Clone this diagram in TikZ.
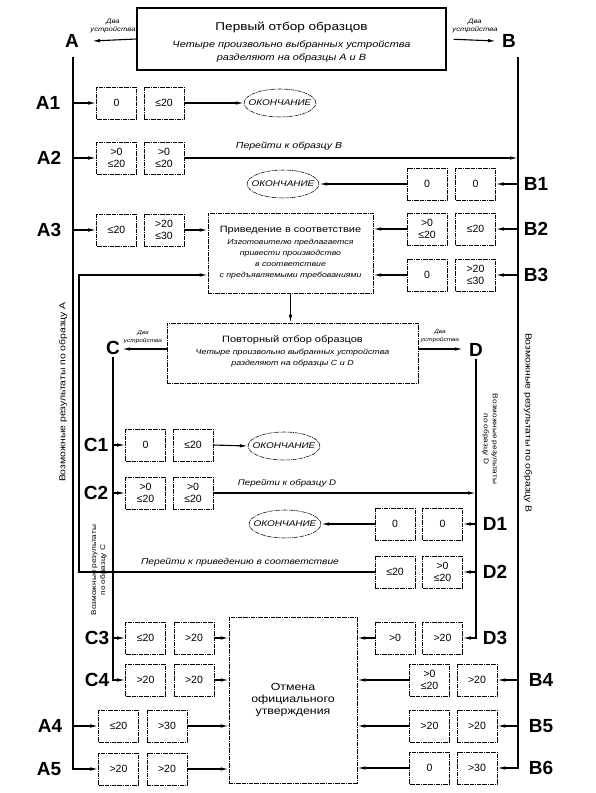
\documentclass[tikz,border=0pt]{standalone}
\usepackage{fontspec}
\setmainfont{Liberation Sans}
\newfontfamily\wide{Liberation Sans}[FakeStretch=1.2]
\usetikzlibrary{arrows.meta,shapes.geometric}
\begin{document}
\begin{tikzpicture}[x=1pt,y=-1pt,
  dpat/.style={dash pattern=on 4pt off 0.8pt on 1pt off 0.8pt},
  dbox/.style={draw, line width=0.55pt, dpat, inner sep=0pt, minimum width=40pt, minimum height=32pt, align=center, font=\fontsize{10.5}{12.5}\selectfont},
  ell/.style={ellipse, draw, line width=0.55pt, dpat, inner xsep=-6pt, inner ysep=0pt, minimum width=71pt, minimum height=28pt, font=\wide\itshape\fontsize{8.3}{9}\selectfont},
  bigbox/.style={draw, line width=0.55pt, dpat, inner sep=0pt},
  arr/.style={line width=1.1pt, -{Latex[length=8pt,width=3.5pt]}},
  biglab/.style={font=\bfseries\fontsize{19}{19}\selectfont, inner sep=2pt},
  sublab/.style={font=\bfseries\fontsize{19}{19}\selectfont, inner sep=1pt},
  ital/.style={font=\wide\itshape\fontsize{9.1}{11}\selectfont, inner sep=0pt},
  pit/.style={font=\wide\itshape\fontsize{7.3}{9}\selectfont, inner sep=0pt},
  rit/.style={font=\wide\itshape\fontsize{7.4}{9}\selectfont, inner sep=0pt},
  goit/.style={font=\wide\itshape\fontsize{#1}{9}\selectfont, inner sep=0pt},
  two/.style={font=\wide\itshape\fontsize{#1}{8}\selectfont, align=center, inner sep=0pt},
  vtext/.style={font=\wide\fontsize{#1}{9}\selectfont, align=center, inner sep=0pt}
]
\useasboundingbox (0,0) rectangle (595,793);

% ---------- top ----------
\node[draw, line width=1.3pt, minimum width=309pt, minimum height=62pt] (top) at (291.5,39) {};
\node[anchor=base, font=\wide\fontsize{11.3}{13}\selectfont, inner sep=0pt] (t1) at (291.5,30) {Первый отбор образцов};
\node[anchor=base, ital] (t2) at (291.5,47) {Четыре произвольно выбранных устройства};
\node[anchor=base, ital] (t3) at (291.5,60) {разделяют на образцы А и В};

\node[biglab] (A) at (72,41) {A};
\node[biglab] (B) at (509,41) {B};
\draw[arr] (top.west) -- ([xshift=11pt]A.east);
\draw[arr, shorten <=7pt] (top.east) -- ([xshift=-4pt]B.west);
\node[two=6.4] (ta) at (113,26) {Два\\устройства};
\node[two=6.4] (tb) at (475,26) {Два\\устройства};

\coordinate (Atop) at (73,57);
\coordinate (Abot) at (73,769);
\coordinate (Btop) at (518,57);
\coordinate (Bbot) at (518,768);

% ---------- A1 ----------
\node[dbox] (a1a) at (116.5,103) {0};
\node[dbox] (a1b) at (164,103) {≤20};
\node[ell] (e1) at (280,103) {ОКОНЧАНИЕ};
\node[sublab] (la1) at (48,103) {A1};
\draw[arr] (a1a.west -| Atop) -- (a1a.west);
\draw[arr] (a1b.east) -- (e1.west);

% ---------- A2 ----------
\node[dbox] (a2a) at (116.5,158) {>0\\≤20};
\node[dbox] (a2b) at (164,158) {>0\\≤20};
\node[sublab] (la2) at (49,158) {A2};
\draw[arr] (a2a.west -| Atop) -- (a2a.west);
\draw[arr] (a2b.east) -- (a2b.east -| Btop);
\node[goit=8.8] (g1) at (289,146) {Перейти к образцу В};

% ---------- B1 ----------
\node[dbox] (b1a) at (427,184) {0};
\node[dbox] (b1b) at (475.5,184) {0};
\node[ell] (e2) at (283,184) {ОКОНЧАНИЕ};
\node[sublab] (lb1) at (536,184) {B1};
\draw[arr] (b1b.east -| Btop) -- (b1b.east);
\draw[arr] (b1a.west) -- (e2.east);

% ---------- Priv box ----------
\node[bigbox, minimum width=165pt, minimum height=80pt] (priv) at (290.5,253) {};
\node[font=\wide\fontsize{9.1}{12}\selectfont, inner sep=0pt] (p1) at (290.5,230) {Приведение в соответствие};
\node[pit] (p2) at (290.5,243) {Изготовителю предлагается};
\node[pit] (p3) at (290.5,254) {привести производство};
\node[pit] (p4) at (290.5,265) {в соответствие};
\node[pit] (p5) at (290.5,276) {с предъявляемыми требованиями};

% ---------- A3 ----------
\node[dbox] (a3a) at (116.5,230) {≤20};
\node[dbox] (a3b) at (164,230) {>20\\≤30};
\node[sublab] (la3) at (49,230) {A3};
\draw[arr] (a3a.west -| Atop) -- (a3a.west);
\draw[arr] (a3b.east) -- (priv.west |- a3b.east);

% ---------- B2, B3 ----------
\node[dbox] (b2a) at (427,229) {>0\\≤20};
\node[dbox] (b2b) at (475.5,229) {≤20};
\node[sublab] (lb2) at (536,229) {B2};
\draw[arr] (b2b.east -| Btop) -- (b2b.east);
\draw[arr] (b2a.west) -- (priv.east |- b2a.west);

\node[dbox] (b3a) at (427,275) {0};
\node[dbox] (b3b) at (475.5,275) {>20\\≤30};
\node[sublab] (lb3) at (536,275) {B3};
\draw[arr] (b3b.east -| Btop) -- (b3b.east);
\draw[arr] (b3a.west) -- (priv.east |- b3a.west);

% ---------- repeat box ----------
\node[bigbox, minimum width=251pt, minimum height=60pt] (rep) at (292.5,353) {};
\node[font=\wide\fontsize{9.2}{12}\selectfont, inner sep=0pt] (r1) at (292.5,340) {Повторный отбор образцов};
\node[rit] (r2) at (292.5,353) {Четыре произвольно выбранных устройства};
\node[rit] (r3) at (292.5,364) {разделяют на образцы С и D};
\draw[arr] (priv.south) -- (priv.south |- rep.north);

\node[biglab] (C) at (113,348) {C};
\node[biglab] (D) at (476,350) {D};
\draw[arr] (rep.west |- 0,349) -- (C.east |- 0,349);
\draw[arr] (rep.east |- 0,349) -- ([xshift=-4pt]D.west |- 0,349);
\node[two=5.4] (tc) at (143,337) {Два\\устройства};
\node[two=5.4] (td) at (440,336) {Два\\устройства};

\coordinate (Cbot) at (113,680);
\coordinate (Dbot) at (476,638);

% ---------- C1 C2 ----------
\node[dbox] (c1a) at (145.5,445) {0};
\node[dbox] (c1b) at (193,445) {≤20};
\node[ell] (e3) at (284,446) {ОКОНЧАНИЕ};
\node[sublab] (lc1) at (96,445) {C1};
\draw[arr] (c1a.west -| Cbot) -- (c1a.west);
\draw[arr] (c1b.east) -- (e3.west);

\node[dbox] (c2a) at (145.5,493) {>0\\≤20};
\node[dbox] (c2b) at (193,493) {>0\\≤20};
\node[sublab] (lc2) at (96,493) {C2};
\draw[arr] (c2a.west -| Cbot) -- (c2a.west);
\draw[arr] (c2b.east) -- (c2b.east -| Dbot);
\node[goit=8.1] (g2) at (287,483) {Перейти к образцу D};

% ---------- D1 D2 ----------
\node[dbox] (d1a) at (395,524) {0};
\node[dbox] (d1b) at (442.5,524) {0};
\node[ell] (e4) at (285,524) {ОКОНЧАНИЕ};
\node[sublab] (ld1) at (495,524) {D1};
\draw[arr] (d1b.east -| Dbot) -- (d1b.east);
\draw[arr] (d1a.west) -- (e4.east);

\node[dbox] (d2a) at (395,572) {≤20};
\node[dbox] (d2b) at (442.5,572) {>0\\≤20};
\node[sublab] (ld2) at (495,572) {D2};
\draw[arr] (d2b.east -| Dbot) -- (d2b.east);
\node[goit=8.5] (g3) at (240,562) {Перейти к приведению в соответствие};
\coordinate (fb1) at (79,572);
\coordinate (fb2) at (79,275);
\draw[arr] (d2a.west) -- (fb1) -- (fb2) -- (priv.west |- fb2);

% ---------- cancel box ----------
\node[bigbox, minimum width=128pt, minimum height=166pt, align=center, font=\wide\fontsize{10.3}{12.3}\selectfont] (ot) at (293,700) {Отмена\\официального\\утверждения};

% ---------- C3 C4 D3 ----------
\node[dbox] (c3a) at (145.5,638) {≤20};
\node[dbox] (c3b) at (194,638) {>20};
\node[sublab] (lc3) at (97,638) {C3};
\draw[arr] (c3a.west -| Cbot) -- (c3a.west);
\draw[arr] (c3b.east) -- (ot.west |- c3b.east);

\node[dbox] (c4a) at (145.5,680) {>20};
\node[dbox] (c4b) at (194,680) {>20};
\node[sublab] (lc4) at (97,680) {C4};
\draw[arr] (C.south) -- (Cbot) -- (c4a.west);
\draw[arr] (c4b.east) -- (ot.west |- c4b.east);

\node[dbox] (d3a) at (395,638) {>0};
\node[dbox] (d3b) at (442.5,638) {>20};
\node[sublab] (ld3) at (495,638) {D3};
\draw[arr] (D.south) -- (Dbot) -- (d3b.east);
\draw[arr] (d3a.west) -- (ot.east |- d3a.west);

% ---------- A4 A5 ----------
\node[dbox] (a4a) at (118.5,726) {≤20};
\node[dbox] (a4b) at (167,726) {>30};
\node[sublab] (la4) at (50,726) {A4};
\draw[arr] (a4a.west -| Atop) -- (a4a.west);
\draw[arr] (a4b.east) -- (ot.west |- a4b.east);

\node[dbox] (a5a) at (118.5,769) {>20};
\node[dbox] (a5b) at (167,769) {>20};
\node[sublab] (la5) at (49,769) {A5};
\draw[arr] (Atop) -- (Abot) -- (a5a.west);
\draw[arr] (a5b.east) -- (ot.west |- a5b.east);

% ---------- B4 B5 B6 ----------
\node[dbox] (b4a) at (429.5,680) {>0\\≤20};
\node[dbox] (b4b) at (477,680) {>20};
\node[sublab] (lb4) at (541,680) {B4};
\draw[arr] (b4b.east -| Btop) -- (b4b.east);
\draw[arr] (b4a.west) -- (ot.east |- b4a.west);

\node[dbox] (b5a) at (429.5,726) {>20};
\node[dbox] (b5b) at (477,726) {>20};
\node[sublab] (lb5) at (541,726) {B5};
\draw[arr] (b5b.east -| Btop) -- (b5b.east);
\draw[arr] (b5a.west) -- (ot.east |- b5a.west);

\node[dbox] (b6a) at (429.5,768) {0};
\node[dbox] (b6b) at (477,768) {>30};
\node[sublab] (lb6) at (541,768) {B6};
\draw[arr] (Btop) -- (Bbot) -- (b6b.east);
\draw[arr] (b6a.west) -- (ot.east |- b6a.west);

% ---------- vertical texts ----------
\node[vtext=8.7, rotate=90] (va) at (63,392) {Возможные результаты по образцу А};
\node[vtext=8.7, rotate=-90] (vb) at (528,423) {Возможные результаты по образцу В};
\node[vtext=6.9, rotate=90] (vc) at (99,570) {Возможные результаты\\по образцу С};
\node[vtext=6.9, rotate=-90] (vd) at (490,439) {Возможные результаты\\по образцу D};
\end{tikzpicture}
\end{document}
